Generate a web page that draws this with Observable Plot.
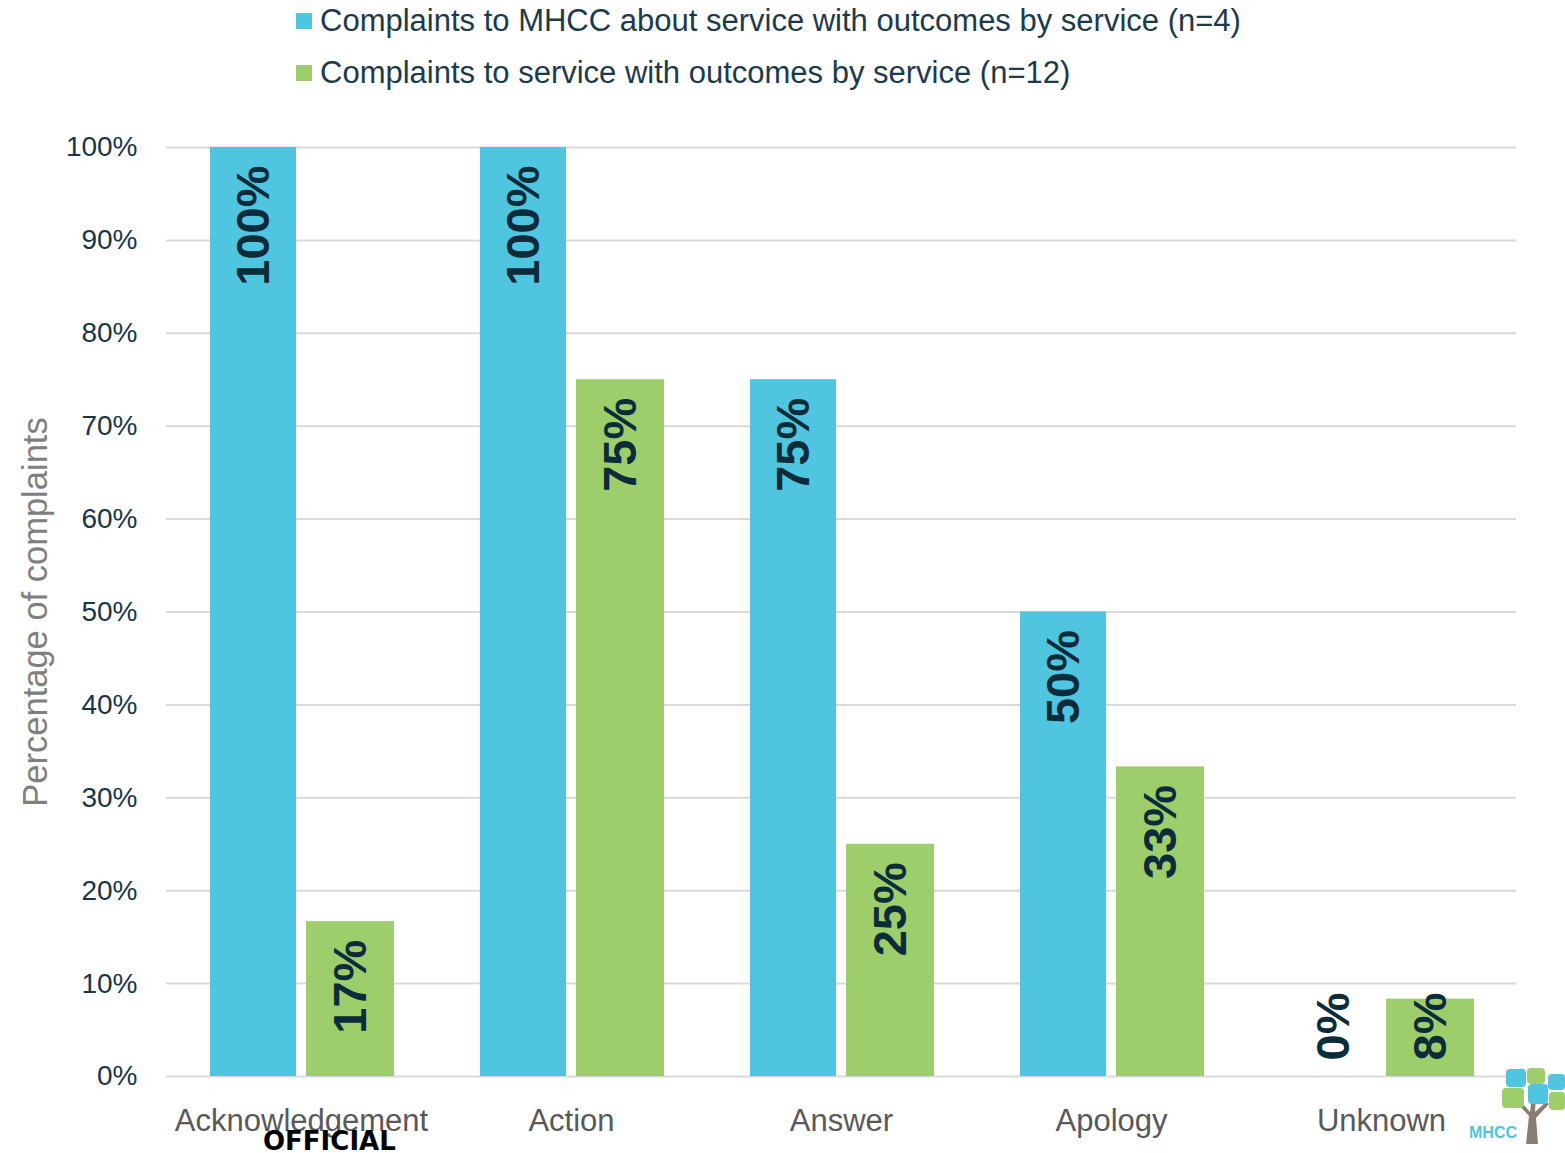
<!DOCTYPE html>
<html><head><meta charset="utf-8">
<script src="https://cdn.jsdelivr.net/npm/d3@7"></script>
<script src="https://cdn.jsdelivr.net/npm/@observablehq/plot@0.6"></script>
<style>
body{margin:0;background:#fff;font-family:"Liberation Sans",Arial,sans-serif;}
#wrap{position:relative;width:1565px;height:1153px;overflow:hidden;background:#fff;}
#legend{position:absolute;left:0;top:0;width:1565px;height:100px;}
.item{position:absolute;left:296px;height:40px;display:flex;align-items:center;font-size:31px;color:#1d3a4b;white-space:nowrap;}
.sw{width:16px;height:16px;margin-right:8px;flex:none;}
#chart{position:absolute;left:0;top:100px;}
#official{position:absolute;left:263px;top:1129px;font:bold 26px "DejaVu Sans",sans-serif;color:#000;line-height:24px;height:24px;}
#logo{position:absolute;left:1466px;top:1066px;}
</style>
</head><body>
<div id="wrap">
  <div id="legend"></div>
  <div id="chart"></div>
  <div id="official">OFFICIAL</div>
  <div id="logo"></div>
</div>
<script>
const categories = ["Acknowledgement", "Action", "Answer", "Apology", "Unknown"];
const seriesNames = [
  "Complaints to MHCC about service with outcomes by service (n=4)",
  "Complaints to service with outcomes by service (n=12)"
];
const mhccValues = [100, 100, 75, 50, 0];
const serviceValues = [16.67, 75, 25, 33.33, 8.33];
const mhccLabels = ["100%", "100%", "75%", "50%", "0%"];
const serviceLabels = ["17%", "75%", "25%", "33%", "8%"];
const yTicks = [0, 10, 20, 30, 40, 50, 60, 70, 80, 90, 100];
const colors = ["#4fc5df", "#9dce6b"];

// legend
const legend = document.getElementById("legend");
seriesNames.forEach((name, i) => {
  const row = document.createElement("div");
  row.className = "item";
  row.style.top = (1 + i * 52) + "px";
  row.innerHTML = `<span class="sw" style="background:${colors[i]}"></span><span>${name}</span>`;
  legend.appendChild(row);
});

const mhccRows = categories.map((c, i) => ({category: c, value: mhccValues[i], label: mhccLabels[i]}));
const serviceRows = categories.map((c, i) => ({category: c, value: serviceValues[i], label: serviceLabels[i]}));

const labelStyle = {fontSize: 47, fontWeight: "bold", fill: "#0c2c3b", rotate: -90, lineAnchor: "middle"};

const chart = Plot.plot({
  width: 1565,
  height: 1053,
  marginTop: 47,
  marginBottom: 77,
  marginLeft: 166,
  marginRight: 49,
  style: {fontFamily: "'Liberation Sans', Arial, sans-serif", background: "#fff"},
  x: {domain: categories, padding: 0},
  y: {domain: [0, 100]},
  marks: [
    Plot.gridY(yTicks, {stroke: "#d9d9d9", strokeOpacity: 1, strokeWidth: 2}),
    Plot.barY(mhccRows, {x: "category", y: "value", fill: colors[0], insetLeft: 44, insetRight: 140}),
    Plot.barY(serviceRows, {x: "category", y: "value", fill: colors[1], insetLeft: 140, insetRight: 42}),
    Plot.text(mhccRows.filter(d => d.value >= 10), {x: "category", y: "value", text: "label", textAnchor: "end", dx: -48, dy: 18, ...labelStyle}),
    Plot.text(serviceRows.filter(d => d.value >= 10), {x: "category", y: "value", text: "label", textAnchor: "end", dx: 49, dy: 18, ...labelStyle}),
    Plot.text(mhccRows.filter(d => d.value < 10), {x: "category", frameAnchor: "bottom", text: "label", textAnchor: "start", dx: -48, dy: -16, ...labelStyle}),
    Plot.text(serviceRows.filter(d => d.value < 10), {x: "category", frameAnchor: "bottom", text: "label", textAnchor: "start", dx: 49, dy: -16, ...labelStyle}),
    Plot.axisX({tickSize: 0, tickPadding: 32, fontSize: 31, fill: "#595959", label: null}),
    Plot.axisY(yTicks, {tickFormat: d => d + "%", tickSize: 0, tickPadding: 29, fontSize: 28, fill: "#17364a", label: null}),
    Plot.text(["Percentage of complaints"], {frameAnchor: "left", textAnchor: "middle", lineAnchor: "middle", rotate: -90, dx: -131, fontSize: 34.5, fill: "#7f7f7f"})
  ]
});
document.getElementById("chart").appendChild(chart);

// small MHCC logo
document.getElementById("logo").innerHTML = `
<svg width="99" height="80" viewBox="0 0 99 80">
  <path d="M60 78 L63 50 L52 38 L56 37 L64 46 L66 30 L70 30 L69 46 L80 36 L83 38 L70 52 L72 78 Z" fill="#8b7d70"/>
  <rect x="36" y="22" width="22" height="20" rx="4" fill="#9dce6b"/>
  <rect x="40" y="3" width="20" height="18" rx="4" fill="#4fc5df"/>
  <rect x="61" y="2" width="18" height="16" rx="4" fill="#9dce6b"/>
  <rect x="62" y="18" width="20" height="20" rx="4" fill="#4fc5df"/>
  <rect x="82" y="8" width="17" height="16" rx="4" fill="#4fc5df"/>
  <rect x="83" y="26" width="16" height="18" rx="4" fill="#9dce6b"/>
  <text x="3" y="72" font-family="'Liberation Sans', Arial, sans-serif" font-weight="bold" font-size="16" fill="#4fc5df">MHCC</text>
</svg>`;
</script>
</body></html>
